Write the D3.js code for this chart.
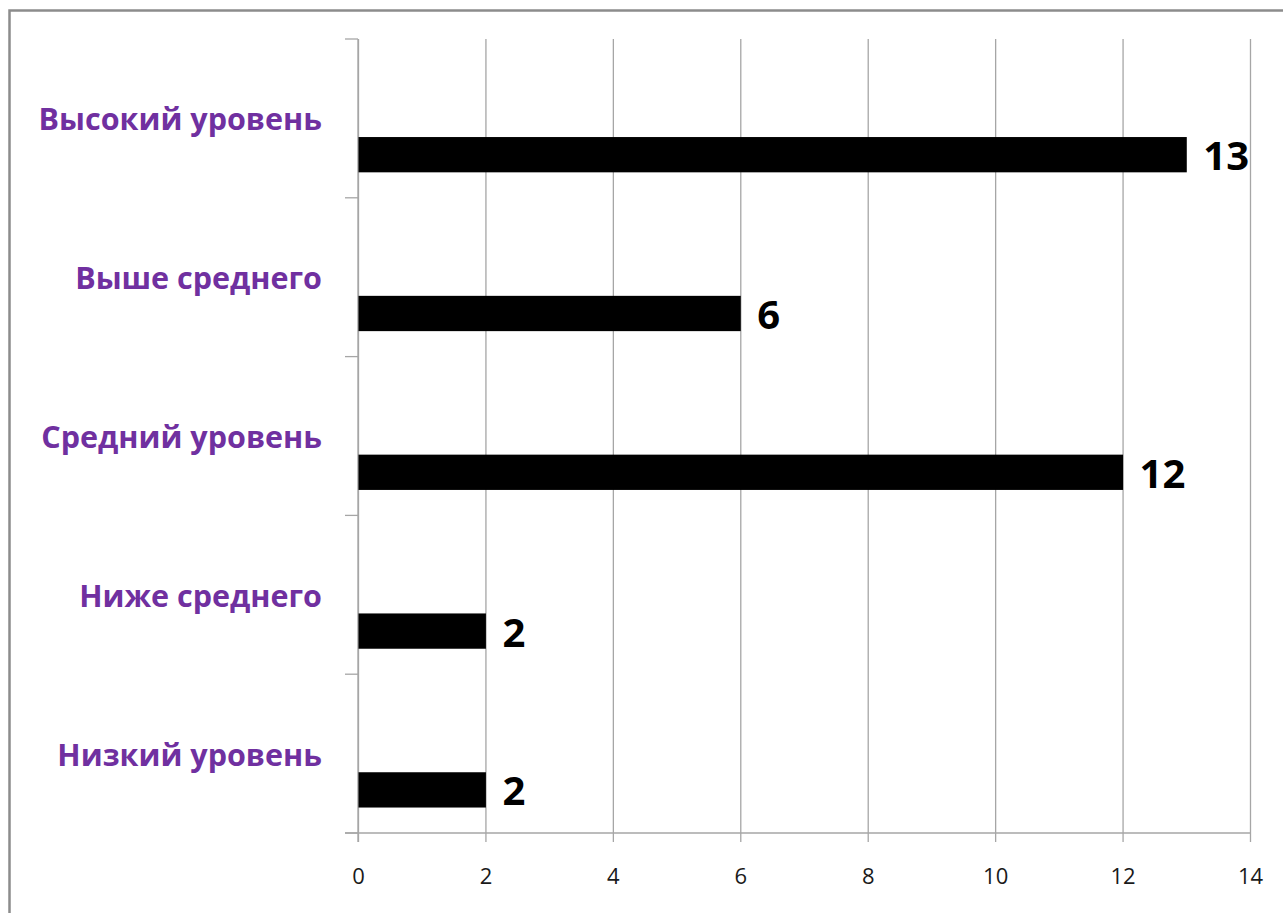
<!DOCTYPE html>
<html>
<head>
<meta charset="utf-8">
<script src="https://cdn.jsdelivr.net/npm/d3@7"></script>
<style>
  html, body { margin: 0; padding: 0; background: #fff; }
  svg { display: block; }
</style>
</head>
<body>
<svg id="chart" width="1283" height="913"></svg>
<script>
// Уровни (сверху вниз) и число учащихся на каждом уровне
const categories = ["Высокий уровень", "Выше среднего", "Средний уровень", "Ниже среднего", "Низкий уровень"];
const values = [13, 6, 12, 2, 2];
const xTicks = [0, 2, 4, 6, 8, 10, 12, 14];

const svg = d3.select("#chart");
const W = 1283, H = 913;
const plot = { left: 358, right: 1250, top: 39, bottom: 833 };

svg.append("rect").attr("width", W).attr("height", H).attr("fill", "#fff");

// chart frame (continues past the right and bottom edges)
svg.append("rect")
  .attr("x", 9.5).attr("y", 10.5)
  .attr("width", W + 40).attr("height", H + 40)
  .attr("fill", "none").attr("stroke", "#8c8c8c").attr("stroke-width", 2.5);

const x = d3.scaleLinear().domain([0, 14]).range([plot.left, plot.right]);
const y = d3.scaleBand().domain(categories).range([plot.top, plot.bottom]).padding(0);
const bw = y.bandwidth();
const barH = bw / 4.5;

const gridColor = "#a6a6a6";

// vertical gridlines with ticks below the axis
const xAxis = d3.axisBottom(x).tickValues(xTicks).tickSize(plot.bottom - plot.top + 9).tickSizeOuter(0).tickPadding(26);
const gx = svg.append("g").attr("transform", `translate(0,${plot.top})`).call(xAxis);
gx.select(".domain").remove();
gx.selectAll(".tick line").attr("stroke", gridColor).attr("stroke-width", 1.3);
gx.selectAll(".tick text")
  .attr("font-family", "'Open Sans', sans-serif")
  .attr("font-size", 22).attr("fill", "#1a1a1a");

// horizontal axis line
svg.append("line")
  .attr("x1", plot.left - 13).attr("x2", plot.right)
  .attr("y1", plot.bottom).attr("y2", plot.bottom)
  .attr("stroke", gridColor).attr("stroke-width", 1.3);

// vertical category axis with ticks at band boundaries
svg.append("line")
  .attr("x1", plot.left).attr("x2", plot.left)
  .attr("y1", plot.top).attr("y2", plot.bottom + 9)
  .attr("stroke", gridColor).attr("stroke-width", 1.3);
const bounds = categories.map(c => y(c)).concat([plot.bottom]);
svg.append("g").selectAll("line").data(bounds).join("line")
  .attr("x1", plot.left - 13).attr("x2", plot.left)
  .attr("y1", d => d).attr("y2", d => d)
  .attr("stroke", gridColor).attr("stroke-width", 1.3);

// category labels
svg.append("g").selectAll("text").data(categories).join("text")
  .attr("x", 322)
  .attr("y", d => y(d) + bw / 2)
  .attr("text-anchor", "end")
  .attr("dominant-baseline", "central")
  .attr("font-family", "'Open Sans', sans-serif")
  .attr("font-weight", "bold")
  .attr("font-size", 30.5)
  .attr("fill", "#7030a0")
  .text(d => d);

// bars
const data = categories.map((c, i) => ({ cat: c, v: values[i] }));
svg.append("g").selectAll("rect").data(data).join("rect")
  .attr("x", x(0) + 0.5)
  .attr("y", d => y(d.cat) + bw / 2 + barH / 2 + 1)
  .attr("width", d => x(d.v) - x(0))
  .attr("height", barH)
  .attr("fill", "#000");

// value labels
svg.append("g").selectAll("text").data(data).join("text")
  .attr("x", d => x(d.v) + 17)
  .attr("y", d => y(d.cat) + bw / 2 + barH + 1)
  .attr("dominant-baseline", "central")
  .attr("font-family", "'Open Sans', sans-serif")
  .attr("font-weight", "bold")
  .attr("font-size", 40)
  .attr("fill", "#000")
  .text(d => d.v);
</script>
</body>
</html>
